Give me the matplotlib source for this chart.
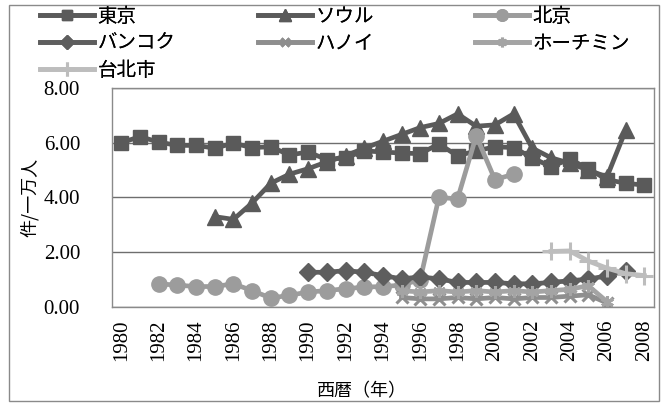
import matplotlib
matplotlib.use("Agg")
import matplotlib.pyplot as plt
import numpy as np

# 都市別の件数（件/一万人）
years = list(range(1980, 2009))

tokyo_years = list(range(1980, 2009))
tokyo = [6.00, 6.22, 6.02, 5.90, 5.90, 5.80, 5.98, 5.82, 5.85, 5.55, 5.66, 5.38,
         5.45, 5.70, 5.66, 5.62, 5.60, 5.95, 5.52, 5.70, 5.85, 5.82, 5.45, 5.12,
         5.40, 5.05, 4.65, 4.52, 4.45]

seoul_years = list(range(1985, 2008))
seoul = [3.30, 3.20, 3.80, 4.52, 4.85, 5.05, 5.30, 5.52, 5.80, 6.05, 6.30, 6.55,
         6.70, 7.05, 6.60, 6.65, 7.05, 5.80, 5.45, 5.25, 5.00, 4.75, 6.45]

beijing_years = list(range(1982, 2002))
beijing = [0.85, 0.80, 0.75, 0.75, 0.85, 0.60, 0.33, 0.43, 0.55, 0.60, 0.67, 0.73,
           0.75, 0.80, 1.00, 4.00, 3.95, 6.25, 4.65, 4.85]

bangkok_years = list(range(1990, 2008))
bangkok = [1.27, 1.27, 1.33, 1.27, 1.15, 1.03, 1.10, 1.03, 0.90, 0.90, 0.90, 0.85,
           0.85, 0.90, 0.96, 1.02, 1.14, 1.32]

hanoi_years = list(range(1995, 2007))
hanoi = [0.35, 0.30, 0.30, 0.35, 0.30, 0.35, 0.30, 0.35, 0.35, 0.40, 0.45, 0.15]

hcm_years = list(range(1995, 2007))
hcm = [0.60, 0.55, 0.60, 0.55, 0.60, 0.55, 0.60, 0.55, 0.60, 0.65, 0.78, 0.20]

taipei_years = list(range(2003, 2009))
taipei = [2.03, 2.05, 1.68, 1.42, 1.22, 1.15]

series = [
    ("東京", tokyo_years, tokyo, "#5a5a5a", "s", 10),
    ("ソウル", seoul_years, seoul, "#5a5a5a", "^", 11),
    ("北京", beijing_years, beijing, "#9c9c9c", "o", 11),
    ("バンコク", bangkok_years, bangkok, "#5e5e5e", "D", 9),
    ("ハノイ", hanoi_years, hanoi, "#8e8e8e", "x", 8),
    ("ホーチミン", hcm_years, hcm, "#a4a4a4", (6, 2, 0), 9),
    ("台北市", taipei_years, taipei, "#bdbdbd", "+", 13),
]

serif = ["Liberation Serif", "DejaVu Serif"]
cjk = ["Noto Sans CJK JP", "DejaVu Sans"]

fig = plt.figure(figsize=(6.67, 4.03), dpi=100)
ax = fig.add_axes([0.168, 0.238, 0.812, 0.544])

lines = {}
for name, yrs, vals, color, marker, ms in series:
    xs = [years.index(y) for y in yrs]
    mew = 2.2 if marker in ("x", "+", (6, 2, 0)) else 1.0
    (ln,) = ax.plot(xs, vals, color=color, linewidth=3.4, marker=marker,
                    markersize=ms, markeredgewidth=mew, markeredgecolor=color,
                    markerfacecolor=color, label=name)
    lines[name] = ln

ax.set_xlim(-0.5, len(years) - 0.5)
ax.set_ylim(0, 8)
ax.set_yticks([0, 2, 4, 6, 8])
ax.set_yticklabels(["%.2f" % v for v in [0, 2, 4, 6, 8]], fontfamily=serif, fontsize=15)
ax.set_xticks(range(0, len(years), 2))
ax.set_xticklabels([str(y) for y in years[::2]], rotation=90, fontfamily=serif, fontsize=15)
ax.tick_params(length=0)
ax.tick_params(axis="x", pad=9)
ax.tick_params(axis="y", pad=23)
ax.grid(axis="y", color="#6e6e6e", linewidth=1.0)
ax.set_axisbelow(True)
for sp in ax.spines.values():
    sp.set_color("#8a8a8a")
    sp.set_linewidth(1.0)

ax.set_ylabel("件/一万人", fontfamily=cjk, fontsize=13)
ax.yaxis.set_label_coords(-0.135, 0.5)
ax.set_xlabel("西暦（年）", fontfamily=cjk, fontsize=13)
ax.xaxis.set_label_coords((362 - 112) / 542, -(382 - 307) / 219)

# 凡例は3列に分けて配置
columns = [
    (40, ["東京", "バンコク", "台北市"]),
    (258, ["ソウル", "ハノイ"]),
    (475, ["北京", "ホーチミン"]),
]
for xpix, names in columns:
    leg = fig.legend([lines[n] for n in names], names,
                     loc="upper left", bbox_to_anchor=(xpix / 667, 1 - 6 / 403),
                     frameon=False, prop={"family": cjk, "size": 14},
                     handlelength=2.8, handletextpad=0.15, labelspacing=0.3,
                     borderpad=0, borderaxespad=0, markerscale=0.75, numpoints=1)
    fig.add_artist(leg)

# 外枠
fig.patches.append(plt.Rectangle((9 / 667, 2 / 403), 650 / 667, 396 / 403,
                                 transform=fig.transFigure, fill=False,
                                 edgecolor="#8a8a8a", linewidth=1.0))

fig.savefig("out.png", dpi=100)
